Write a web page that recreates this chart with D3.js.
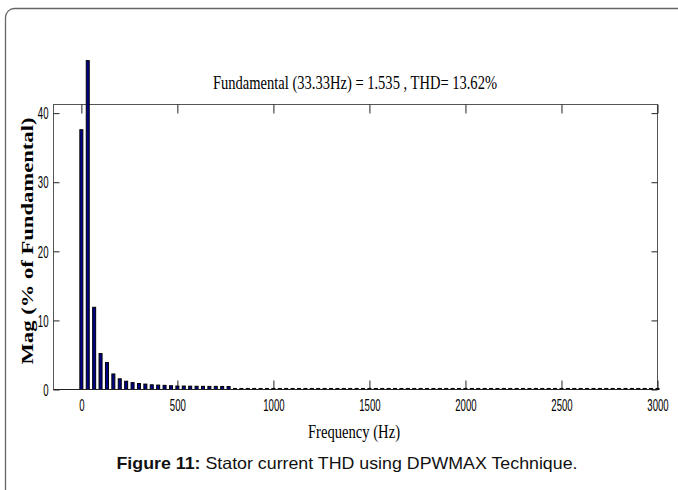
<!DOCTYPE html>
<html><head><meta charset="utf-8">
<script src="https://cdn.jsdelivr.net/npm/d3@7"></script>
<style>body{margin:0;background:#fff}svg{display:block}</style>
</head><body>
<svg id="c" width="678" height="490"></svg>
<script>
// ---- data ----
const fundamentalHz = 33.333;
// magnitude (% of fundamental) of each harmonic order 0..90
const magnitudes = [
  37.6, 47.6, 11.9, 5.2, 3.9, 2.25, 1.55, 1.2, 1.0, 0.87,
  0.78, 0.68, 0.64, 0.6, 0.55, 0.5, 0.5, 0.48, 0.47, 0.46,
  0.45, 0.45, 0.44, 0.43, 0.15, 0.15, 0.15, 0.15, 0.15, 0.15,
  0.15, 0.15, 0.15, 0.15, 0.15, 0.15, 0.15, 0.15, 0.15, 0.15,
  0.15, 0.15, 0.15, 0.15, 0.15, 0.15, 0.15, 0.15, 0.15, 0.15,
  0.15, 0.15, 0.15, 0.15, 0.15, 0.15, 0.15, 0.15, 0.15, 0.15,
  0.15, 0.15, 0.15, 0.15, 0.15, 0.15, 0.15, 0.15, 0.15, 0.15,
  0.15, 0.15, 0.15, 0.15, 0.15, 0.15, 0.15, 0.15, 0.15, 0.15,
  0.15, 0.15, 0.15, 0.15, 0.15, 0.15, 0.15, 0.15, 0.15, 0.15,
  0.15
];
const xTicks = [0, 500, 1000, 1500, 2000, 2500, 3000];
const yTicks = [0, 10, 20, 30, 40];
const titleText = "Fundamental (33.33Hz) = 1.535 , THD= 13.62%";
const xLabel = "Frequency (Hz)";
const yLabel = "Mag (% of Fundamental)";
const captionBold = "Figure 11:";
const captionRest = " Stator current THD using DPWMAX Technique.";

const bars = magnitudes.map((m, i) => ({ f: i * fundamentalHz, m }));

// ---- drawing ----
const svg = d3.select("#c");

svg.append("rect")
  .attr("x", 5.5).attr("y", 8.5).attr("width", 720).attr("height", 520)
  .attr("rx", 9).attr("fill", "none").attr("stroke", "#666").attr("stroke-width", 1.3);

const x = d3.scaleLinear().domain([-145, 3000]).range([53.5, 657.5]);
const y = d3.scaleLinear().domain([0, 41.25]).range([389.5, 104.5]);

const tickFont = "'Liberation Sans', Arial, sans-serif";
function condense(sel, k) {
  sel.each(function () {
    const w = this.getComputedTextLength();
    d3.select(this).attr("textLength", w * k).attr("lengthAdjust", "spacingAndGlyphs");
  });
}

// frame
svg.append("rect")
  .attr("x", x.range()[0]).attr("y", y.range()[1])
  .attr("width", x.range()[1] - x.range()[0]).attr("height", y.range()[0] - y.range()[1])
  .attr("fill", "none").attr("stroke", "#555").attr("stroke-width", 1);

// axes
const fmt = d3.format("d");
const gx = svg.append("g").attr("transform", `translate(0,${y.range()[0]})`)
  .call(d3.axisBottom(x).tickValues(xTicks).tickFormat(fmt).tickSize(-9).tickSizeOuter(0).tickPadding(11));
const gxt = svg.append("g").attr("transform", `translate(0,${y.range()[1]})`)
  .call(d3.axisTop(x).tickValues(xTicks).tickSize(-9).tickSizeOuter(0).tickFormat(""));
const gy = svg.append("g").attr("transform", `translate(${x.range()[0]},0)`)
  .call(d3.axisLeft(y).tickValues(yTicks).tickFormat(fmt).tickSize(-6).tickSizeOuter(0).tickPadding(5));
const gyr = svg.append("g").attr("transform", `translate(${x.range()[1]},0)`)
  .call(d3.axisRight(y).tickValues(yTicks).tickSize(-6).tickSizeOuter(0).tickFormat(""));

[gx, gxt, gy, gyr].forEach(g => {
  g.select(".domain").remove();
  g.selectAll(".tick line").attr("stroke", "#222");
  g.selectAll("text").attr("font-family", tickFont).attr("font-size", 16).attr("fill", "#000");
});
gx.selectAll("text").attr("dy", "0.65em");
condense(gx.selectAll("text"), 0.6);
gy.selectAll("text").attr("dy", "0.36em");
condense(gy.selectAll("text"), 0.6);

// bars
const bw = 3;
svg.append("g").selectAll("rect").data(bars).join("rect")
  .attr("x", d => x(d.f) - bw / 2)
  .attr("y", d => y(d.m))
  .attr("width", bw)
  .attr("height", d => y(0) - y(d.m))
  .attr("fill", "#00008b")
  .attr("stroke", "#000")
  .attr("stroke-width", 1);

// bottom axis line on top
svg.append("line")
  .attr("x1", x.range()[0]).attr("x2", x.range()[1])
  .attr("y1", y(0)).attr("y2", y(0))
  .attr("stroke", "#222");

// title
svg.append("text")
  .attr("x", 355).attr("y", 89)
  .attr("text-anchor", "middle")
  .attr("font-family", "'Liberation Serif', 'Times New Roman', serif")
  .attr("font-size", 18).attr("fill", "#000")
  .attr("textLength", 284).attr("lengthAdjust", "spacingAndGlyphs")
  .text(titleText);

// x label
svg.append("text")
  .attr("x", 354).attr("y", 438)
  .attr("text-anchor", "middle")
  .attr("font-family", "'Liberation Serif', 'Times New Roman', serif")
  .attr("font-size", 18).attr("fill", "#000")
  .attr("textLength", 92).attr("lengthAdjust", "spacingAndGlyphs")
  .text(xLabel);

// y label
svg.append("text")
  .attr("transform", "translate(33,241) rotate(-90)")
  .attr("text-anchor", "middle")
  .attr("font-family", "'Liberation Serif', 'Times New Roman', serif")
  .attr("font-size", 16).attr("font-weight", "bold").attr("fill", "#000")
  .attr("textLength", 247).attr("lengthAdjust", "spacingAndGlyphs")
  .text(yLabel);

// caption
const cap = svg.append("text")
  .attr("x", 347).attr("y", 469)
  .attr("text-anchor", "middle")
  .attr("font-family", "'Liberation Sans', Arial, sans-serif")
  .attr("font-size", 16.5).attr("fill", "#111")
  .attr("textLength", 461).attr("lengthAdjust", "spacingAndGlyphs");
cap.append("tspan").attr("font-weight", "bold").text(captionBold);
cap.append("tspan").text(captionRest);
</script>
</body></html>
